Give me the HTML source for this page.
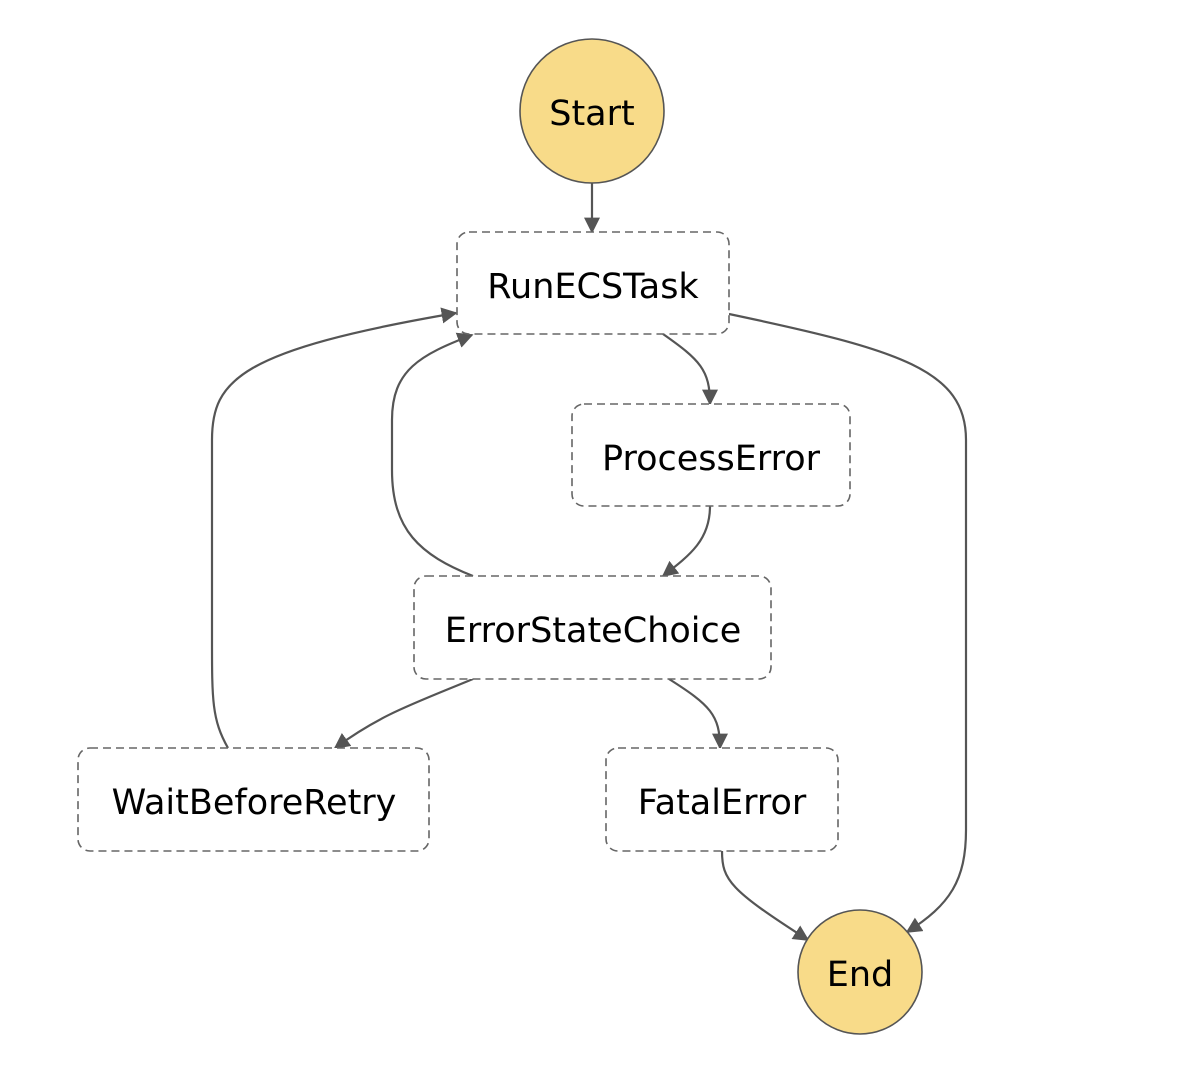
<!DOCTYPE html>
<html><head><meta charset="utf-8"><style>
html,body{margin:0;padding:0;background:#fff;}
svg{display:block;}
text{font-family:"DejaVu Sans","Liberation Sans",sans-serif;font-size:35px;fill:#000;text-anchor:middle;}
</style></head><body>
<svg width="1192" height="1070" viewBox="0 0 1192 1070">
<defs>
<marker id="a" viewBox="0 0 10 10" refX="9" refY="5" markerWidth="16" markerHeight="16" markerUnits="userSpaceOnUse" orient="auto">
<path d="M0,0 L10,5 L0,10 z" fill="#555"/>
</marker>
</defs>
<g fill="none" stroke="#555" stroke-width="2.2" marker-end="url(#a)">
<path d="M592,183 L592,232"/>
<path d="M663,334 C700,360 710,370 710,404"/>
<path d="M710,506 C710,540 690,555 663,576"/>
<path d="M473,576 C420,555 392,530 392,470 L392,420 C392,370 420,355 472,335"/>
<path d="M228,748 C212,720 212,700 212,640 L212,440 C212,380 240,350 456,313"/>
<path d="M729,314 C900,350 966,370 966,440 L966,830 C966,880 950,905 907,932"/>
<path d="M473,679 C410,705 380,715 335,748"/>
<path d="M669,679 C710,705 720,715 720,748"/>
<path d="M722,851 C722,880 730,890 808,940"/>
</g>
<g fill="#fff" stroke="#666" stroke-width="1.6" stroke-dasharray="8,5">
<rect x="457" y="232" width="272" height="102" rx="12"/>
<rect x="572" y="404" width="278" height="102" rx="12"/>
<rect x="414" y="576" width="357" height="103" rx="12"/>
<rect x="78" y="748" width="351" height="103" rx="12"/>
<rect x="606" y="748" width="232" height="103" rx="12"/>
</g>
<circle cx="592" cy="111" r="72" fill="#f8db89" stroke="#555" stroke-width="1.6"/>
<circle cx="860" cy="972" r="62" fill="#f8db89" stroke="#555" stroke-width="1.6"/>
<text x="592" y="125">Start</text>
<text x="860" y="986">End</text>
<text x="593" y="298">RunECSTask</text>
<text x="711" y="470">ProcessError</text>
<text x="593" y="642">ErrorStateChoice</text>
<text x="254" y="814">WaitBeforeRetry</text>
<text x="722" y="814">FatalError</text>
</svg>
</body></html>
